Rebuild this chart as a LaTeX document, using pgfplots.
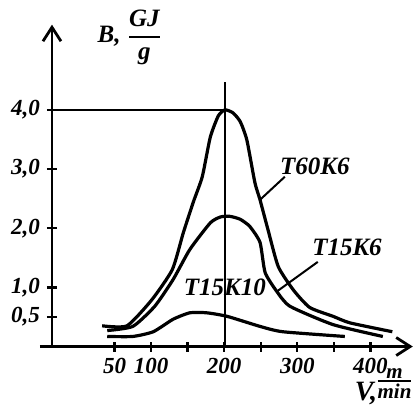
\documentclass[border=0pt]{standalone}
\usepackage{fontspec}
\setmainfont{Liberation Serif}
\usepackage{pgfplots}
\pgfplotsset{compat=1.18}
\usetikzlibrary{arrows.meta}
\begin{document}
\begin{tikzpicture}
\begin{axis}[
  scale only axis, width=180.5pt, height=161pt,
  xmin=-35.6, xmax=458, ymin=0, ymax=5.44,
  clip=false,
  axis lines=left,
  axis line style={line width=1.4pt, -{Straight Barb[length=7pt,width=9pt]}},
  xtick={50,100,150,200,250,300,350,400},
  xticklabels={50,100,,200,,300,,400},
  ytick={0.5,1,2,3,4},
  yticklabels={{0,5},{1,0},{2,0},{3,0},{4,0}},
  tick align=center, major tick length=5pt,
  tick style={line width=1.2pt, black},
  xticklabel style={font=\fontsize{11.5}{13}\selectfont\bfseries\itshape},
  yticklabel style={font=\fontsize{11.5}{13}\selectfont\bfseries\itshape},
]
\path (axis cs:-106.7,5.857) rectangle (axis cs:466.5,-0.945);
\draw[line width=1.4pt] (axis cs:-52,0) -- (axis cs:-35.6,0);
% reference lines
\draw[line width=1pt] (axis cs:-35.6,4) -- (axis cs:201,4);
\draw[line width=1pt] (axis cs:201,0) -- (axis cs:201,4.47);
% T60K6
\addplot[line width=1.6pt, smooth, tension=0.35, line join=round] coordinates {
 (33,0.35)(67,0.35)(101,0.79)(129,1.30)(144,1.92)(158,2.45)(170,2.87)(181,3.54)(192,3.9)(201,4.0)(212,3.95)(222,3.80)(231,3.49)(242,2.77)(249,2.48)(260,1.97)(274,1.35)(295,0.95)(317,0.66)(349,0.51)(372,0.40)(430,0.25)};
% T15K6
\addplot[line width=1.6pt, smooth, tension=0.35, line join=round] coordinates {
 (40,0.27)(75,0.34)(105,0.68)(130,1.13)(153,1.64)(181,2.09)(195,2.19)(208,2.2)(222,2.15)(235,2.03)(249,1.76)(256,1.25)(272,0.93)(290,0.68)(349,0.37)(417,0.17)};
% T15K10
\addplot[line width=1.6pt, smooth, tension=0.35, line join=round] coordinates {
 (40,0.17)(75,0.17)(103,0.25)(130,0.46)(153,0.57)(176,0.57)(204,0.51)(249,0.34)(280,0.25)(365,0.17)};
% leaders
\draw[line width=1pt] (axis cs:283,2.87) -- (axis cs:249,2.48);
\draw[line width=1pt] (axis cs:328,1.43) -- (axis cs:272,0.93);
% labels
\node[font=\fontsize{12.5}{14}\selectfont\bfseries\itshape] at (axis cs:324,3.05) {T60K6};
\node[font=\fontsize{12.5}{14}\selectfont\bfseries\itshape] at (axis cs:368,1.67) {T15K6};
\node[font=\fontsize{12.5}{14}\selectfont\bfseries\itshape] at (axis cs:201,1.0) {T15K10};
\node[font=\fontsize{12.5}{14}\selectfont\bfseries\itshape] at (axis cs:71,5.23)
  {B, $\displaystyle{\mbox{\bfseries\itshape GJ}\above 1pt \mbox{\bfseries\itshape g}}$};
\node[font=\fontsize{14}{16}\selectfont\bfseries\itshape, inner sep=0pt] at (axis cs:394,-0.80) {V,};
\node[font=\fontsize{10.5}{12}\selectfont\bfseries\itshape, inner sep=0pt] at (axis cs:433,-0.62)
  {${\mbox{\bfseries\itshape m}\above 0.8pt \mbox{\bfseries\itshape min}}$};
\end{axis}
\end{tikzpicture}
\end{document}
